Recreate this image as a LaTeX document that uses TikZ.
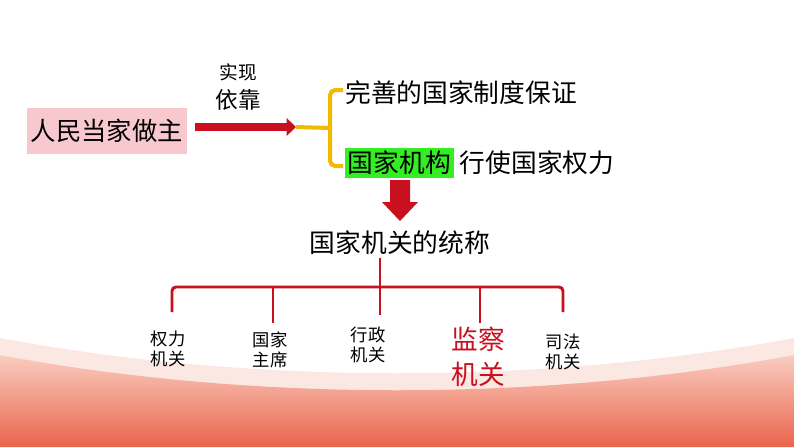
\documentclass[tikz,border=0pt]{standalone}
\usepackage{fontspec}
\setmainfont{Noto Sans CJK SC}
\usetikzlibrary{arrows.meta}
\definecolor{dred}{HTML}{C8101E}
\definecolor{orng}{HTML}{F5B800}
\definecolor{pinkb}{HTML}{F7C9CE}
\definecolor{grn}{HTML}{33EE22}
\tikzset{
 lbl/.style={font=\fontsize{13}{15}\selectfont, align=center, inner sep=0pt},
 big/.style={font=\fontsize{19.3}{22}\selectfont, inner sep=0pt},
 tree/.style={dred, line width=2.2pt, rounded corners=3pt},
}
\begin{document}
\begin{tikzpicture}[x=0.75pt,y=-0.75pt]
\useasboundingbox (0,0) rectangle (794,447);
\fill[white] (0,0) rectangle (794,447);
\fill[color={rgb,255:red,252;green,232;blue,226}] (0,338) .. controls (250,385) and (544,385) .. (794,338) -- (794,447) -- (0,447) -- cycle;
\shade[top color={rgb,255:red,249;green,205;blue,192}, bottom color={rgb,255:red,235;green,100;blue,76}] (0,355) .. controls (250,402) and (544,402) .. (794,355) -- (794,447) -- (0,447) -- cycle;
% left
\node[fill=pinkb, minimum width=120pt, minimum height=34.5pt, font=\fontsize{19}{22}\selectfont, inner sep=0pt] (rm) at (107,131) {人民当家做主};
\coordinate (ae) at (296,127);
\draw[dred, line width=6pt, -{Triangle[length=7pt,width=13pt]}] (195,127) -- (ae);
\node[font=\fontsize{14}{16}\selectfont] (sx) at (238,72) {实现};
\node[font=\fontsize{17}{19}\selectfont] (yk) at (238,100) {依靠};
% bracket
\coordinate (bm) at (330,128);
\draw[orng, line width=3pt] (ae) -- (bm);
\draw[orng, line width=3pt, rounded corners=4pt] (343,90) -- (330,90) -- (330,166) -- (343,166);
\node[big, anchor=west] (ws) at (345,93) {完善的国家制度保证};
\node[big, fill=grn, anchor=west, minimum height=22.5pt, inner xsep=2pt] (gj) at (345,163) {国家机构};
\node[big, anchor=west] (xs) at (gj.east) {\ 行使国家权力};
% down arrow
\fill[dred] (390,180) -- (410,180) -- (410,202) -- (418,202) -- (400,221) -- (382,202) -- (390,202) -- cycle;
\node[big] (tc) at (400,243) {国家机关的统称};
% tree
\coordinate (t0) at (380,258);
\draw[tree] (t0) -- (380,315);
\draw[tree] (172,312) -- (172,287) -- (563,287) -- (563,312);
\draw[tree] (273,287) -- (273,323);
\draw[tree] (480,287) -- (480,323);
\node[lbl] (a) at (168,349) {权力\\机关};
\node[lbl] (b) at (270,350) {国家\\主席};
\node[lbl] (c) at (368,345) {行政\\机关};
\node[lbl, text=dred, font=\fontsize{20}{26}\selectfont] (d) at (478,357) {监察\\机关};
\node[lbl] (e) at (563,352) {司法\\机关};
\end{tikzpicture}
\end{document}
